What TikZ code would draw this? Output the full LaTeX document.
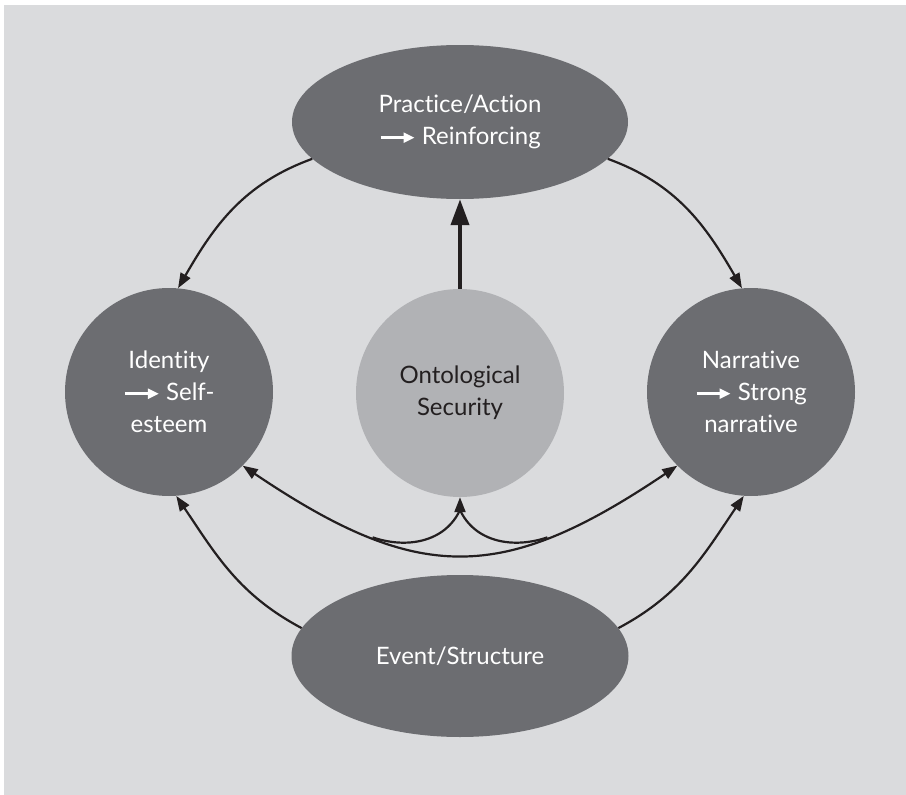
\documentclass[tikz,border=0pt]{standalone}
\usepackage{fontspec}
\setmainfont{Lato}[Ligatures={NoCommon,NoRare}]
\usetikzlibrary{shapes,arrows.meta}
\definecolor{bgGray}{HTML}{DADBDD}
\definecolor{ndDark}{HTML}{6C6D71}
\definecolor{ndLight}{HTML}{B1B2B5}
\definecolor{inkBlack}{HTML}{231F20}
\tikzstyle{blob}=[circle,fill=ndDark,text=white,minimum size=208pt,inner sep=0pt,align=center,font=\fontsize{24}{32}\selectfont]
\tikzstyle{oval}=[ellipse,fill=ndDark,text=white,inner sep=0pt,align=center,font=\fontsize{24}{32}\selectfont]
\tikzstyle{lnk}=[draw=inkBlack,line width=2.2pt]
\tikzstyle{arr}=[lnk,-{Triangle[length=15pt,width=11pt]}]
\newcommand{\wArrow}{\tikz[baseline=-7pt]\draw[white,line width=2.5pt,-{Triangle[length=11pt,width=10pt]}] (0pt,0pt) -- (34pt,0pt);}

\begin{document}
\begin{tikzpicture}[x=1pt,y=1pt]
\useasboundingbox (0,0) rectangle (906,-795);
\fill[bgGray] (4,-5) rectangle (906,-795);
% the five nodes
\node[oval,minimum width=336pt,minimum height=154pt] (act) at (460,-122) {Practice/Action\\\wArrow\ Reinforcing};
\node[blob] (idn) at (169,-392) {Identity\\\wArrow\ Self-\\esteem};
\node[blob,fill=ndLight,text=inkBlack] (ont) at (460,-393) {Ontological\\Security};
\node[blob] (nar) at (751,-392) {Narrative\\\wArrow\ Strong\\narrative};
\node[oval,minimum width=337pt,minimum height=162pt] (evt) at (460,-656) {Event/Structure};
% outer arrows
\draw[arr] (act.194) to[out=200,in=60] (idn.85);
\draw[arr] (act.-14) to[out=-20,in=120] (nar.95);
\draw[arr] (evt.170) to[out=152,in=-56] (idn.-86);
\draw[arr] (evt.10) to[out=28,in=236] (nar.-94);
\draw[lnk,line width=4pt,-{Triangle[length=26pt,width=18pt]}] (ont.north) -- (act.south);
% lower fork
\draw[lnk,{Triangle[length=15pt,width=11pt]}-{Triangle[length=15pt,width=11pt]}] (idn.-45) to[out=-34,in=214,looseness=1.25] coordinate[pos=0.28] (ml) coordinate[pos=0.72] (mr) (nar.225);
\coordinate (jn) at (460,-510);
\draw[arr] (jn) -- (ont.south);
\draw[lnk] (jn) to[out=245,in=-19] (ml);
\draw[lnk] (jn) to[out=-65,in=199] (mr);
\end{tikzpicture}
\end{document}
